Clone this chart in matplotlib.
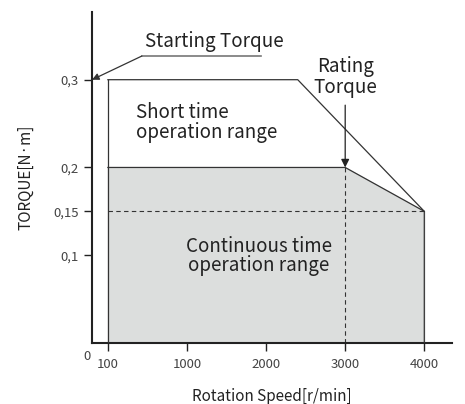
import matplotlib
matplotlib.use("Agg")
import matplotlib.pyplot as plt

plt.rcParams['font.family'] = ['Noto Sans CJK KR', 'DejaVu Sans']

# speed ticks are drawn evenly spaced (schematic chart)
speed_labels = ['100', '1000', '2000', '3000', '4000']
speed_pos = [0, 1, 2, 3, 4]
torque_ticks = [0.1, 0.15, 0.2, 0.3]
torque_labels = ['0,1', '0,15', '0,2', '0,3']

# short time boundary (x in tick positions, y torque N·m)
short_x = [0, 2.4, 4]
short_y = [0.3, 0.3, 0.15]
# continuous boundary
cont_x = [0, 3, 4, 4]
cont_y = [0.2, 0.2, 0.15, 0.0]

rated_pos, rated_torque = 3, 0.2
corner_torque = 0.15

fig = plt.figure(figsize=(4.65, 4.04), dpi=100)
ax = fig.add_axes([0.198, 0.151, 0.774, 0.819])
ax.set_xlim(-0.2, 4.35)
ax.set_ylim(0, 0.377)

ax.fill_between(cont_x[:3], cont_y[:3], 0, color='#dcdedd', zorder=1)
ax.plot(short_x, short_y, color='#333333', lw=0.9, zorder=3)
ax.plot(cont_x, cont_y, color='#333333', lw=0.9, zorder=3)
ax.plot([0, 0], [0, 0.3], color='#333333', lw=0.9, zorder=3)
ax.plot([0, 4], [corner_torque, corner_torque], color='#333333', lw=0.8,
        ls=(0, (4, 3)), zorder=2)
ax.plot([rated_pos, rated_pos], [0, rated_torque], color='#333333', lw=0.8,
        ls=(0, (4, 3)), zorder=2)

for s in ['top', 'right']:
    ax.spines[s].set_visible(False)
for s in ['left', 'bottom']:
    ax.spines[s].set_linewidth(1.5)
    ax.spines[s].set_color('#222222')

ax.set_xticks(speed_pos)
ax.set_xticklabels(speed_labels)
ax.set_yticks(torque_ticks)
ax.set_yticklabels(torque_labels)
ax.tick_params(axis='both', length=6, width=1.0, color='#222222',
               labelsize=9.5, labelcolor='#444444')
ax.tick_params(axis='x', pad=5)
ax.text(-0.22, -0.008, '0', ha='right', va='top', fontsize=9.5, color='#444444')

ax.set_xlabel('Rotation Speed[r/min]', fontsize=11, fontweight='medium',
              color='#222222', labelpad=12)
ax.set_ylabel('TORQUE[N·m]', fontsize=11, fontweight='medium',
              color='#222222', labelpad=14)

big = dict(fontsize=13.5, fontweight='medium', color='#222222')

# starting torque annotation
ax.text(0.47, 0.331, 'Starting Torque', ha='left', va='bottom', **big)
ax.plot([0.43, 1.93], [0.327, 0.327], color='#777777', lw=1.2, clip_on=False)
ax.annotate('', xy=(-0.2, 0.3), xytext=(0.43, 0.327),
            arrowprops=dict(arrowstyle='-|>', color='#333333', lw=0.9,
                            mutation_scale=10, shrinkA=0, shrinkB=0))

# rating torque annotation
ax.text(rated_pos, 0.279, 'Rating\nTorque', ha='center', va='bottom',
        linespacing=1.0, **big)
ax.annotate('', xy=(rated_pos, rated_torque), xytext=(rated_pos, 0.271),
            arrowprops=dict(arrowstyle='-|>', color='#222222', lw=0.9,
                            mutation_scale=12, shrinkA=0, shrinkB=0))

ax.text(0.36, 0.251, 'Short time\noperation range', ha='left', va='center',
        linespacing=0.92, **big)
ax.text(1.91, 0.099, 'Continuous time\noperation range', ha='center',
        va='center', linespacing=0.92, **big)

fig.savefig('out.png', dpi=100)
